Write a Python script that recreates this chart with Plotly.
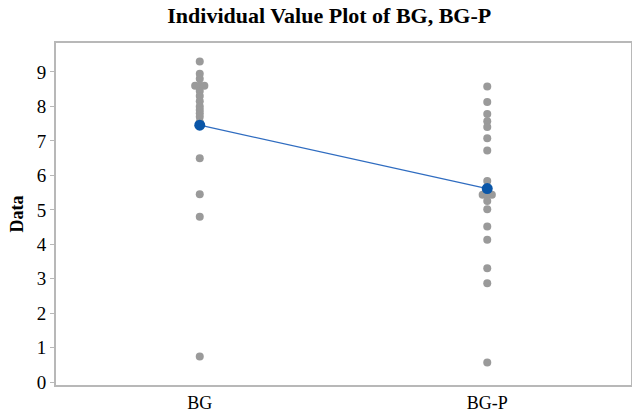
import plotly.graph_objects as go
from collections import Counter

categories = ["BG", "BG-P"]
bg_values = [9.3, 8.95, 8.8, 8.6, 8.6, 8.6, 8.45, 8.3, 8.15, 8.0, 7.9, 7.8, 7.7, 7.55, 6.5, 5.45, 4.8, 0.75]
bgp_values = [8.58, 8.13, 7.78, 7.57, 7.4, 7.08, 6.72, 5.84, 5.44, 5.44, 5.44, 5.26, 5.02, 4.52, 4.13, 3.31, 2.87, 0.57]
series = [bg_values, bgp_values]

SERIF = "Liberation Serif, Times New Roman, serif"
DOT_SPREAD = 0.016  # horizontal spread for coincident points (axis units)

fig = go.Figure()

means = []
for idx, vals in enumerate(series):
    base = idx + 1
    counts = Counter(vals)
    seen = Counter()
    xs = []
    for v in vals:
        k = counts[v]
        i = seen[v]
        seen[v] += 1
        xs.append(base + (i - (k - 1) / 2) * DOT_SPREAD)
    fig.add_trace(go.Scatter(
        x=xs, y=vals, mode="markers",
        marker=dict(color="#9a9a9a", size=8, line=dict(width=0)),
        showlegend=False, hoverinfo="y"))
    means.append(sum(vals) / len(vals))

fig.add_trace(go.Scatter(
    x=[1, 2], y=means, mode="lines+markers",
    line=dict(color="#2f6cc0", width=1.3),
    marker=dict(color="#0a56a8", size=11, line=dict(width=0)),
    showlegend=False))

fig.update_layout(
    width=632, height=412,
    margin=dict(l=56, r=1, t=43, b=27),
    paper_bgcolor="white", plot_bgcolor="white",
    title=dict(text="<b>Individual Value Plot of BG, BG-P</b>",
               x=0.521, xanchor="center", y=0.963, yanchor="middle",
               font=dict(family=SERIF, size=22, color="black")),
    font=dict(family=SERIF, color="black"),
)
fig.update_xaxes(
    range=[0.5, 2.5], tickvals=[1, 2], ticktext=categories,
    automargin=False,
    showgrid=False, zeroline=False,
    showline=True, mirror=True, linecolor="#b8b8b8", linewidth=2,
    ticks="",
    tickfont=dict(family=SERIF, size=18, color="black"))
fig.update_yaxes(
    range=[-0.08, 9.84], tickvals=list(range(0, 10)),
    automargin=False,
    showgrid=False, zeroline=False,
    showline=True, mirror=True, linecolor="#b8b8b8", linewidth=2,
    ticks="outside", ticklen=4, tickcolor="#b8b8b8",
    tickfont=dict(family=SERIF, size=19, color="black"),
    title=dict(text="<b>Data</b>", font=dict(family=SERIF, size=18, color="black"),
               standoff=8))

fig.write_html("out.html")
